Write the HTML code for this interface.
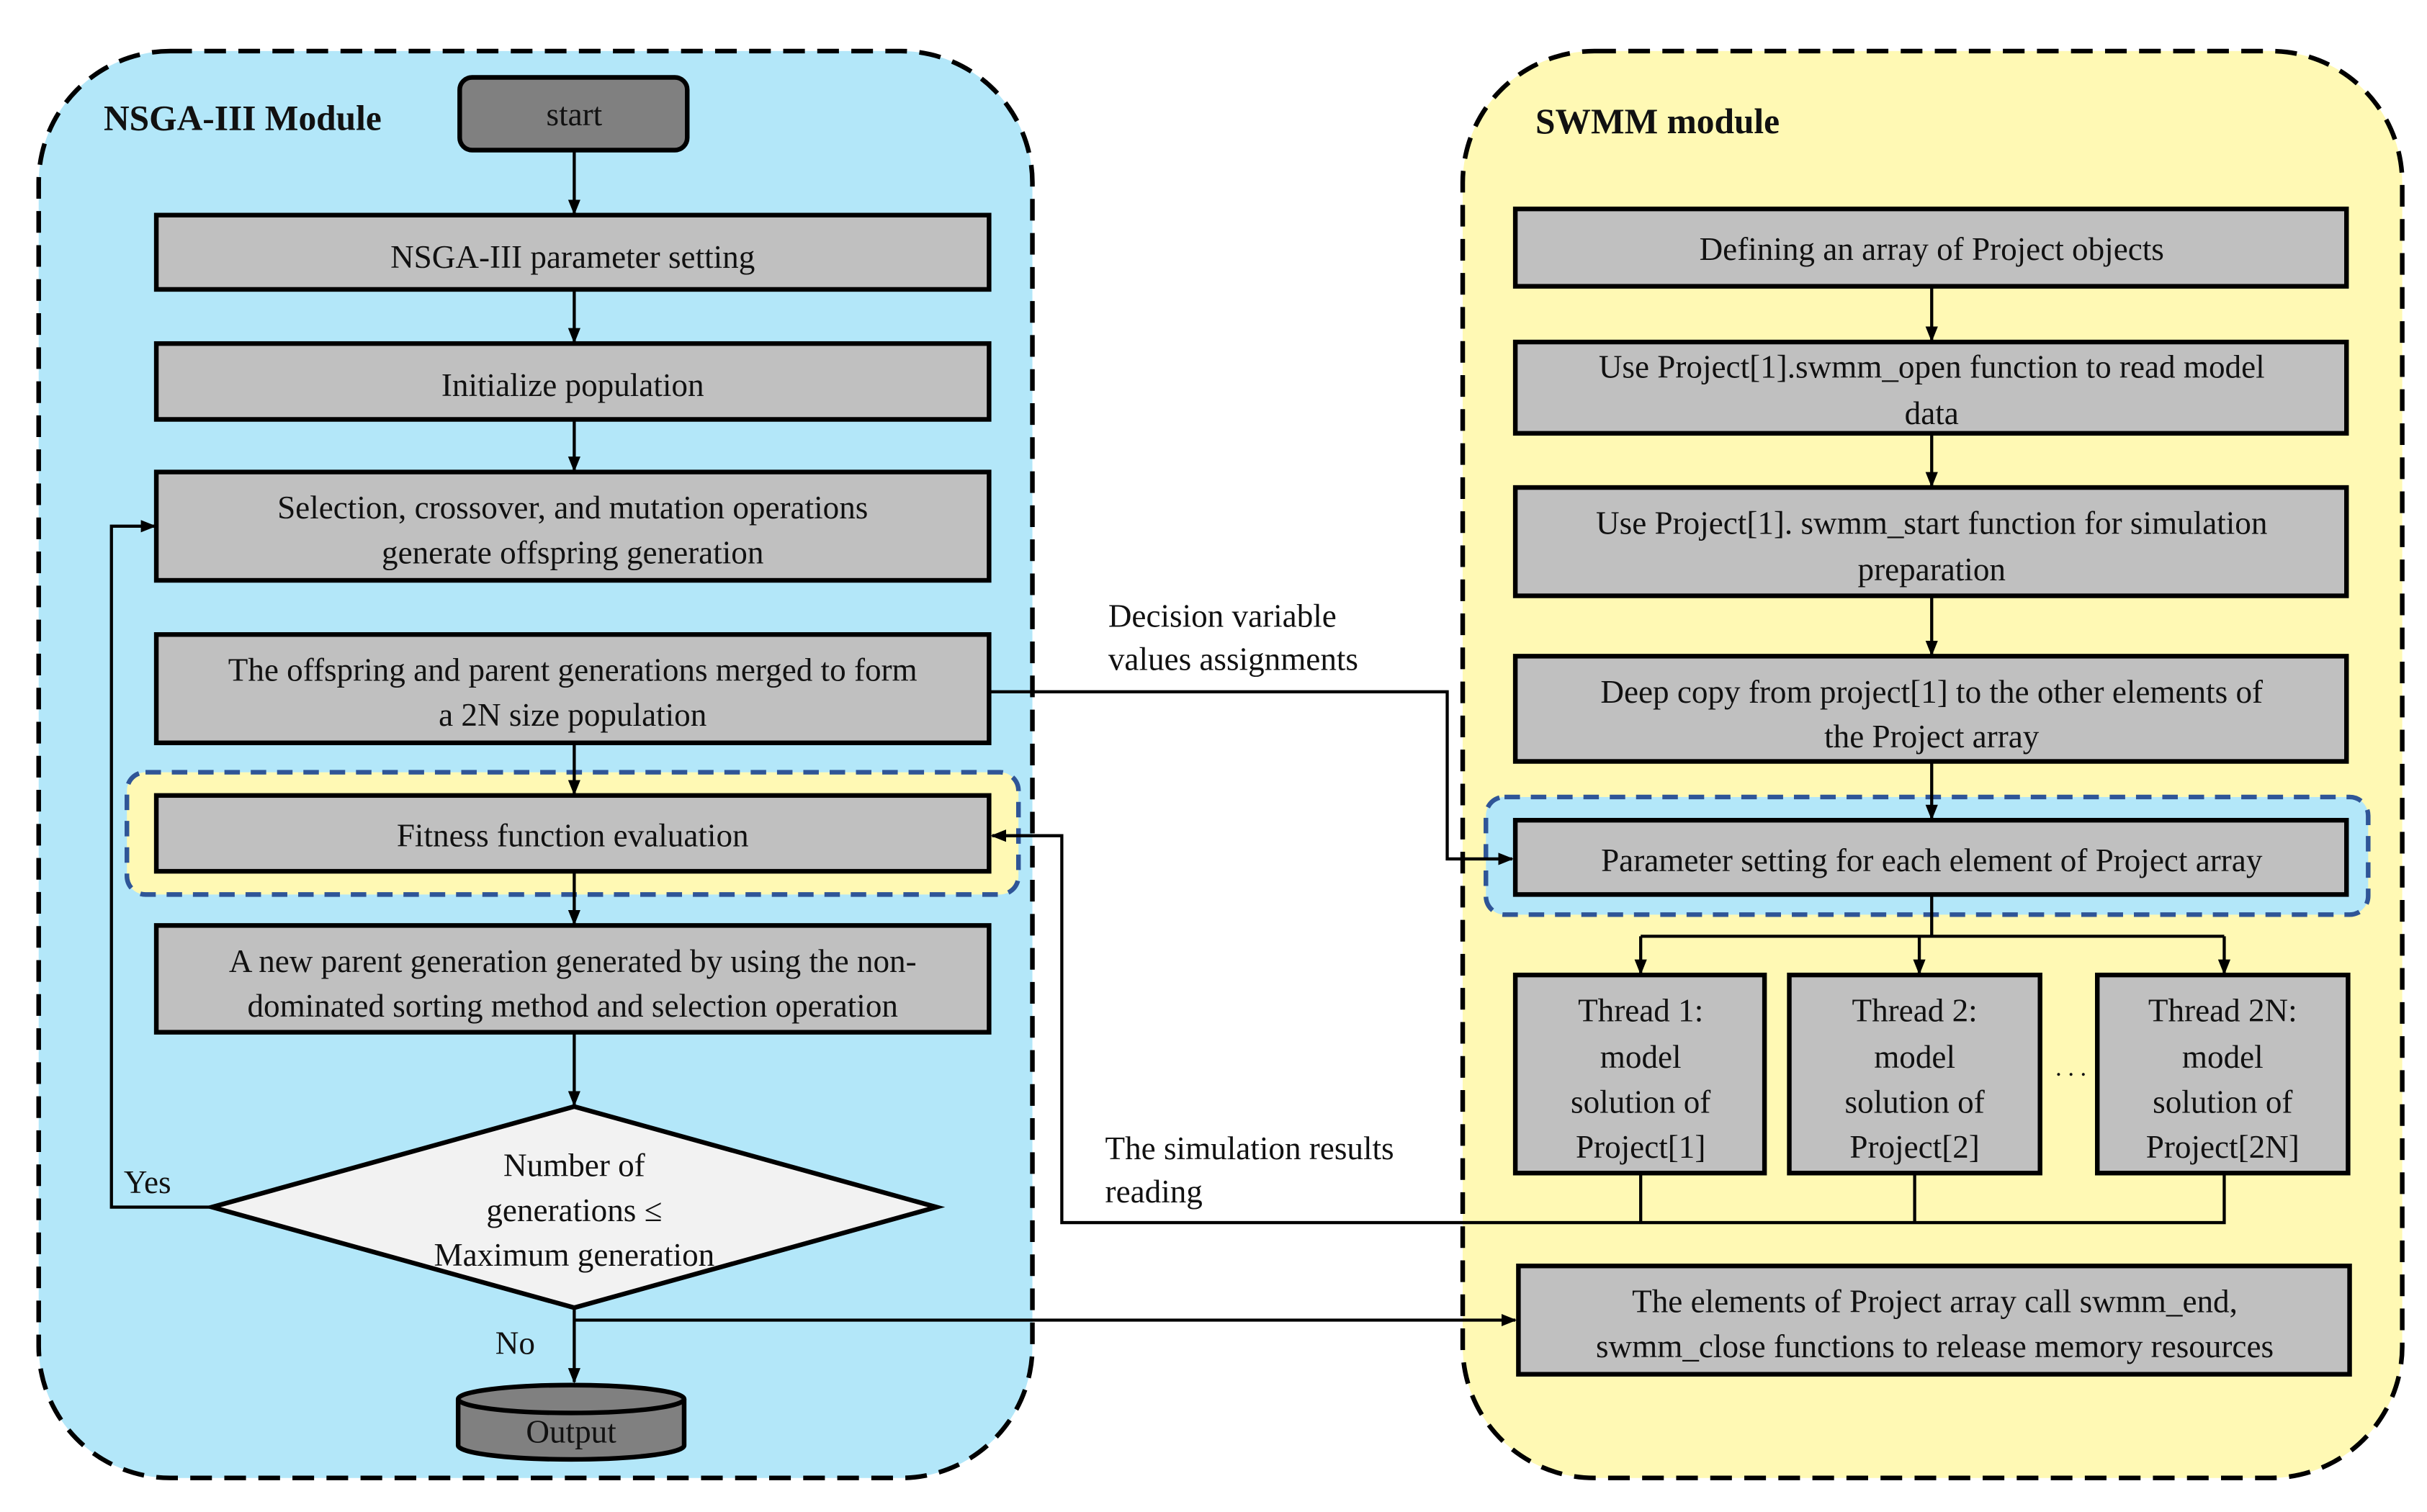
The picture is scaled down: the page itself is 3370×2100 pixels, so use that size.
<!DOCTYPE html>
<html><head><meta charset="utf-8"><style>
html,body{margin:0;padding:0;background:#fff;}
svg{display:block;}
svg text{font-family:"Liberation Serif","Times New Roman","DejaVu Serif",serif !important;font-size:21px;fill:#111;}
</style></head><body>
<svg width="3370" height="2100" viewBox="0 0 1568 977" preserveAspectRatio="none" xmlns="http://www.w3.org/2000/svg" font-family="Liberation Serif, Times New Roman, DejaVu Serif, serif">
<defs>
<marker id="a" markerWidth="10" markerHeight="10" refX="9" refY="5" orient="auto" markerUnits="userSpaceOnUse">
<path d="M0,1 L10,5 L0,9 z" fill="#000"/></marker>
</defs>
<rect x="25" y="33" width="642" height="922" rx="85" fill="#b3e7f9" stroke="#000" stroke-width="3" stroke-dasharray="14,8"/>
<rect x="945" y="33" width="607" height="922" rx="85" fill="#fff9b4" stroke="#000" stroke-width="3" stroke-dasharray="14,8"/>
<rect x="82" y="499" width="576" height="79" rx="12" fill="#fff9b4" stroke="#2f5597" stroke-width="3" stroke-dasharray="10,7"/>
<rect x="960" y="515" width="570" height="76" rx="12" fill="#b3e7f9" stroke="#2f5597" stroke-width="3" stroke-dasharray="10,7"/>

<text x="67" y="84" font-family="Liberation Serif, serif" style="font-weight:bold;font-size:23px">NSGA-III Module</text>
<text x="992" y="86" font-family="Liberation Serif, serif" style="font-weight:bold;font-size:23px">SWMM module</text>

<g stroke="#000" stroke-width="3">
<rect x="297" y="50" width="147" height="47" rx="8" fill="#808080"/>
<rect x="101" y="139" width="538" height="48" fill="#c0c0c0"/>
<rect x="101" y="222" width="538" height="49" fill="#c0c0c0"/>
<rect x="101" y="305" width="538" height="70" fill="#c0c0c0"/>
<rect x="101" y="410" width="538" height="70" fill="#c0c0c0"/>
<rect x="101" y="514" width="538" height="49" fill="#c0c0c0"/>
<rect x="101" y="598" width="538" height="69" fill="#c0c0c0"/>
<polygon points="371,715 605,780 371,845 137,780" fill="#f2f2f2"/>
<path d="M296,904 L296,934 A73,9 0 0 0 442,934 L442,904" fill="#808080"/>
<ellipse cx="369" cy="904" rx="73" ry="9" fill="#808080"/>

<rect x="979" y="135" width="537" height="50" fill="#c0c0c0"/>
<rect x="979" y="221" width="537" height="59" fill="#c0c0c0"/>
<rect x="979" y="315" width="537" height="70" fill="#c0c0c0"/>
<rect x="979" y="424" width="537" height="68" fill="#c0c0c0"/>
<rect x="979" y="530" width="537" height="48" fill="#c0c0c0"/>
<rect x="979" y="630" width="161" height="128" fill="#c0c0c0"/>
<rect x="1156" y="630" width="162" height="128" fill="#c0c0c0"/>
<rect x="1355" y="630" width="162" height="128" fill="#c0c0c0"/>
<rect x="981" y="818" width="537" height="70" fill="#c0c0c0"/>
</g>

<g stroke="#000" stroke-width="2" fill="none">
<line x1="371" y1="97" x2="371" y2="138" marker-end="url(#a)"/>
<line x1="371" y1="187" x2="371" y2="221" marker-end="url(#a)"/>
<line x1="371" y1="271" x2="371" y2="304" marker-end="url(#a)"/>
<line x1="371" y1="480" x2="371" y2="513" marker-end="url(#a)"/>
<line x1="371" y1="563" x2="371" y2="597" marker-end="url(#a)"/>
<line x1="371" y1="667" x2="371" y2="714" marker-end="url(#a)"/>
<line x1="371" y1="845" x2="371" y2="893" marker-end="url(#a)"/>
<polyline points="137,780 72,780 72,340 100,340" marker-end="url(#a)"/>
<polyline points="371,853 979,853" marker-end="url(#a)"/>
<polyline points="639,447 935,447 935,555 977,555" marker-end="url(#a)"/>
<polyline points="1437,758 1437,790 686,790 686,540 641,540" marker-end="url(#a)"/>
<line x1="1060" y1="758" x2="1060" y2="790"/>
<line x1="1237" y1="758" x2="1237" y2="790"/>
<line x1="1248" y1="185" x2="1248" y2="220" marker-end="url(#a)"/>
<line x1="1248" y1="280" x2="1248" y2="314" marker-end="url(#a)"/>
<line x1="1248" y1="385" x2="1248" y2="423" marker-end="url(#a)"/>
<line x1="1248" y1="492" x2="1248" y2="529" marker-end="url(#a)"/>
<line x1="1248" y1="578" x2="1248" y2="605"/>
<line x1="1060" y1="605" x2="1437" y2="605"/>
<line x1="1060" y1="605" x2="1060" y2="629" marker-end="url(#a)"/>
<line x1="1240" y1="605" x2="1240" y2="629" marker-end="url(#a)"/>
<line x1="1437" y1="605" x2="1437" y2="629" marker-end="url(#a)"/>
</g>

<g text-anchor="middle" font-family="Liberation Serif, serif">
<text x="371" y="81">start</text>
<text x="370" y="173">NSGA-III parameter setting</text>
<text x="370" y="256">Initialize population</text>
<text x="370" y="335">Selection, crossover, and mutation operations</text>
<text x="370" y="364">generate offspring generation</text>
<text x="370" y="440">The offspring and parent generations merged to form</text>
<text x="370" y="469">a 2N size population</text>
<text x="370" y="547">Fitness function evaluation</text>
<text x="370" y="628">A new parent generation generated by using the non-</text>
<text x="370" y="657">dominated sorting method and selection operation</text>
<text x="371" y="760">Number of</text>
<text x="371" y="789">generations ≤</text>
<text x="371" y="818">Maximum generation</text>
<text x="369" y="932">Output</text>

<text x="1248" y="168">Defining an array of Project objects</text>
<text x="1248" y="244">Use Project[1].swmm_open function to read model</text>
<text x="1248" y="274">data</text>
<text x="1248" y="345">Use Project[1]. swmm_start function for simulation</text>
<text x="1248" y="375">preparation</text>
<text x="1248" y="454">Deep copy from project[1] to the other elements of</text>
<text x="1248" y="483">the Project array</text>
<text x="1248" y="563">Parameter setting for each element of Project array</text>
<text x="1060" y="660">Thread 1:</text><text x="1060" y="690">model</text><text x="1060" y="719">solution of</text><text x="1060" y="748">Project[1]</text>
<text x="1237" y="660">Thread 2:</text><text x="1237" y="690">model</text><text x="1237" y="719">solution of</text><text x="1237" y="748">Project[2]</text>
<text x="1436" y="660">Thread 2N:</text><text x="1436" y="690">model</text><text x="1436" y="719">solution of</text><text x="1436" y="748">Project[2N]</text>
<text x="1338" y="695" style="font-size:16px">. . .</text>
<text x="1250" y="848">The elements of Project array call swmm_end,</text>
<text x="1250" y="877">swmm_close functions to release memory resources</text>
</g>
<g font-family="Liberation Serif, serif">
<text x="716" y="405">Decision variable</text>
<text x="716" y="433">values assignments</text>
<text x="714" y="749">The simulation results</text>
<text x="714" y="777">reading</text>
<text x="80" y="771">Yes</text>
<text x="320" y="875">No</text>
</g>
</svg>
</body></html>
